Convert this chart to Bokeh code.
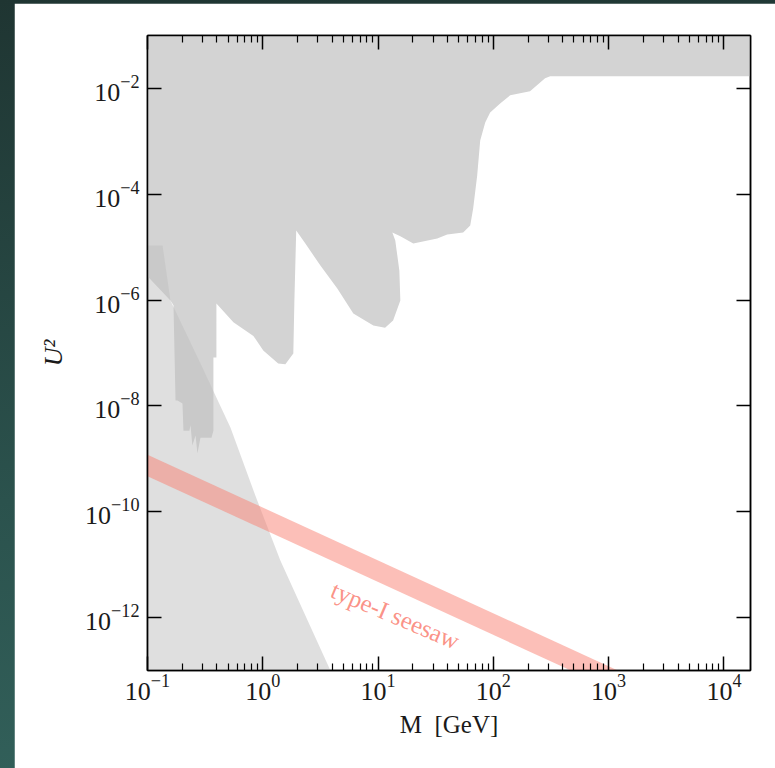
import math
from bokeh.plotting import figure
from bokeh.models import (FixedTicker, LogAxis, Label, LogTickFormatter, LogTicker,
                          CustomJSTickFormatter)
from bokeh.layouts import column
from bokeh.embed import file_html
from bokeh.resources import INLINE

# ---- data ----
x_major = [1e-1, 1e0, 1e1, 1e2, 1e3, 1e4]
x_minor = [m * 10.0 ** e for e in range(-1, 5) for m in range(2, 10)]
y_major = [1e-12, 1e-10, 1e-8, 1e-6, 1e-4, 1e-2]

# combined excluded region (darker grey)
main_M = [0.09, 0.158, 0.168, 0.175, 0.182, 0.201, 0.205, 0.231, 0.236, 0.245,
          0.261, 0.271, 0.288, 0.359, 0.373, 0.373, 0.396, 0.396, 0.556, 0.829,
          1.01, 1.36, 1.57, 1.84, 1.88, 1.95, 2.34, 3.16, 4.43, 6.1,
          9.1, 11.5, 13.5, 15.6, 15.3, 14.1, 13.3, 15.6, 20.2, 32.6,
          39.8, 54.7, 63.0, 66.8, 72.4, 76.9, 85.0, 93.8, 114.5, 140.0,
          208.0, 281.0, 311.0, 3e4, 3e4, 0.09]
main_U2 = [3.6e-6, 9.8e-7, 8.0e-7, 1.26e-8, 1.26e-8, 1.11e-8, 3.4e-9, 3.4e-9, 4.3e-9, 1.78e-9,
           2.75e-9, 1.26e-9, 2.5e-9, 2.5e-9, 3.4e-9, 8.2e-8, 8.2e-8, 8.6e-7, 3.8e-7, 2.1e-7,
           1.11e-7, 6.3e-8, 6.1e-8, 9.8e-8, 9.8e-7, 2.07e-5, 1.17e-5, 4.5e-6, 1.66e-6, 5.6e-7,
           3.3e-7, 3.0e-7, 4.1e-7, 9.8e-7, 3.6e-6, 1.34e-5, 1.9e-5, 1.6e-5, 1.17e-5, 1.46e-5,
           1.74e-5, 1.9e-5, 2.57e-5, 5.4e-5, 2.26e-4, 1.04e-3, 2.27e-3, 3.5e-3, 5.2e-3, 7.4e-3,
           8.8e-3, 1.55e-2, 1.69e-2, 1.69e-2, 1.0, 1.0]

# lighter region (lower left)
light_M = [0.09, 0.135, 0.158, 0.288, 0.524, 0.863, 1.42, 2.34, 3.86, 4.5, 0.09]
light_U2 = [1.08e-5, 1.08e-5, 9.8e-7, 6.3e-8, 3.9e-9, 2.0e-10, 1.2e-11, 1.1e-12, 1.0e-13, 5e-14, 5e-14]

# type-I seesaw band
band_M = [0.1, 2000.0]
band_lo = [4.7e-10, 2.35e-14]
band_hi = [1.2e-9, 6.0e-14]

serif = "Liberation Serif"
ink = "#1a1a1a"

p = figure(width=761, height=765, x_axis_type="log", y_axis_type="log",
           x_range=(0.1, 1.7e4), y_range=(1e-13, 1e-1),
           output_backend="svg", toolbar_location=None,
           min_border_left=133, min_border_right=25, min_border_top=32, min_border_bottom=98,
           margin=(3, 0, 0, 14))
p.grid.visible = False
p.background_fill_color = "white"
p.border_fill_color = "white"
p.outline_line_color = "black"
p.outline_line_width = 1.5

p.patch(main_M, main_U2, fill_color="#d3d3d3", line_color=None)
p.patch(light_M, light_U2, fill_color="#c0c0c0", fill_alpha=0.5, line_color=None)
p.varea(x=band_M, y1=band_lo, y2=band_hi, fill_color="#fa8072", fill_alpha=0.5)

bottom = p.below[0]
left = p.left[0]
bottom.ticker = FixedTicker(ticks=x_major, minor_ticks=x_minor)
left.ticker = FixedTicker(ticks=y_major, minor_ticks=[])
bottom.formatter = LogTickFormatter(ticker=LogTicker())
left.formatter = LogTickFormatter(ticker=LogTicker())

blank = CustomJSTickFormatter(code="return ''")
top = LogAxis(ticker=FixedTicker(ticks=x_major, minor_ticks=x_minor), formatter=blank)
right = LogAxis(ticker=FixedTicker(ticks=y_major, minor_ticks=[]), formatter=blank)
p.add_layout(top, "above")
p.add_layout(right, "right")

for ax in [bottom, left, top, right]:
    ax.axis_line_color = "black"
    ax.axis_line_width = 1.5
    ax.major_tick_line_color = "black"
    ax.major_tick_line_width = 1.5
    ax.minor_tick_line_color = "black"
    ax.minor_tick_line_width = 1.2
    ax.major_tick_in = 14
    ax.major_tick_out = 0
    ax.minor_tick_in = 7
    ax.minor_tick_out = 0
    ax.major_label_text_font = serif
    ax.major_label_text_font_size = "26px"
    ax.major_label_text_color = ink

bottom.major_label_standoff = 4
left.major_label_standoff = 8
for ax in [top, right]:
    ax.major_label_text_font_size = "8px"
    ax.major_label_standoff = 0

left.axis_label = "U²"
left.axis_label_text_font = serif
left.axis_label_text_font_style = "italic"
left.axis_label_text_font_size = "26px"
left.axis_label_text_color = ink
left.axis_label_standoff = 14

bottom.axis_label = "M\u2002[GeV]"
bottom.axis_label_text_font = serif
bottom.axis_label_text_font_style = "normal"
bottom.axis_label_text_font_size = "25px"
bottom.axis_label_text_color = ink
bottom.axis_label_standoff = 8

p.add_layout(Label(x=14.1, y=1.1e-12, text="type-I seesaw", angle=-0.40,
                   text_align="center", text_baseline="middle",
                   text_font=serif, text_font_size="25px",
                   text_color="#fa8072", text_alpha=0.85))

layout = column(p, width=775, height=768,
                styles={"background": "linear-gradient(175deg, #1f3532 0%, #2b524d 60%, #33625c 100%)"})

open("out.html", "w").write(file_html(layout, INLINE))
